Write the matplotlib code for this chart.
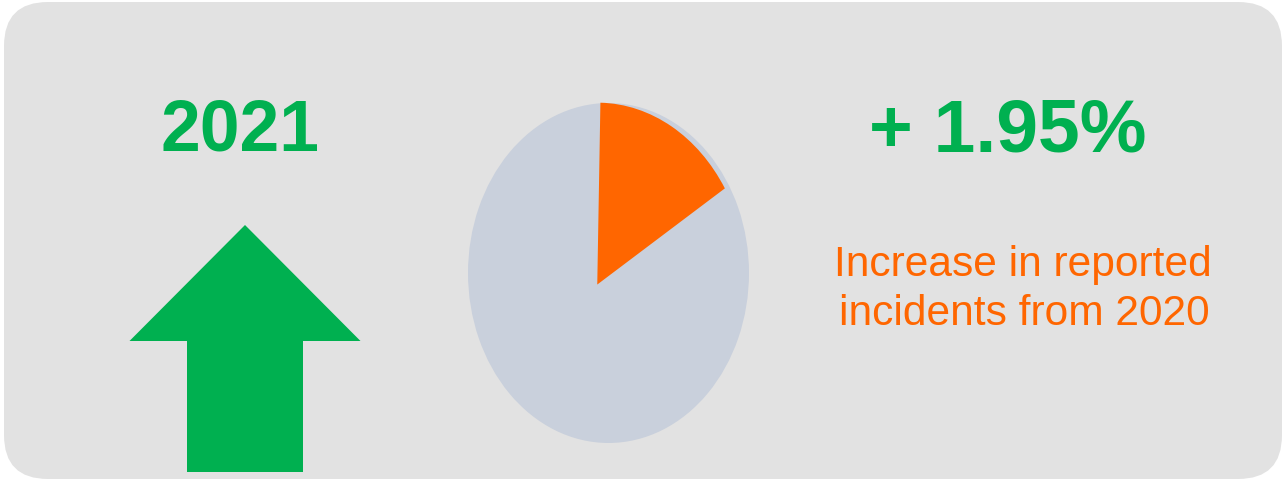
import matplotlib
matplotlib.use("Agg")
import matplotlib.pyplot as plt
from matplotlib.patches import FancyBboxPatch, FancyArrow

# valores del panel
anio = "2021"
cambio_pct = 1.95
etiqueta = ["Increase in reported", "incidents from 2020"]
porcion = [0.158, 0.842]   # parte destacada / resto

verde = "#00b050"
naranja = "#ff6600"
gris_fondo = "#e2e2e2"
gris_pie = "#c9d0dc"

plt.rcParams['font.family'] = ['Liberation Sans', 'DejaVu Sans']

W, H = 1283, 481
fig = plt.figure(figsize=(W / 100, H / 100), dpi=100, facecolor="white")

# eje de fondo en pixeles
ax = fig.add_axes([0, 0, 1, 1])
ax.set_xlim(0, W)
ax.set_ylim(H, 0)
ax.axis("off")

fondo = FancyBboxPatch((4, 3), 1278, 477, boxstyle="round,pad=0,rounding_size=44",
                       facecolor=gris_fondo, edgecolor="none")
ax.add_patch(fondo)

# flecha hacia arriba
flecha = FancyArrow(245, 473, 0, -247, width=116, head_width=231, head_length=116,
                    length_includes_head=True, color=verde, linewidth=0)
ax.add_patch(flecha)

ax.text(240, 151, anio, color=verde, fontsize=51.5, fontweight="bold",
        ha="center", va="baseline")
ax.text(1008, 152, f"+ {cambio_pct:.2f}%", color=verde, fontsize=54, fontweight="bold",
        ha="center", va="baseline")
ax.text(1023, 276, etiqueta[0], color=naranja, fontsize=30.6, ha="center", va="baseline")
ax.text(1024, 325, etiqueta[1], color=naranja, fontsize=30.6, ha="center", va="baseline")

# grafico de torta (eliptico)
axp = fig.add_axes([468 / W, (H - 444) / H, 281 / W, 340 / H])
axp.pie([1], colors=[gris_pie], radius=1, wedgeprops=dict(linewidth=0))
axp.pie(porcion, colors=[naranja, "none"], radius=1.07, center=(-0.08, -0.068),
        startangle=88.8, counterclock=False, wedgeprops=dict(linewidth=0))
axp.set_aspect("auto")
axp.set_xlim(-1, 1)
axp.set_ylim(-1, 1)
axp.axis("off")

fig.savefig("out.png", dpi=100, facecolor="white")
